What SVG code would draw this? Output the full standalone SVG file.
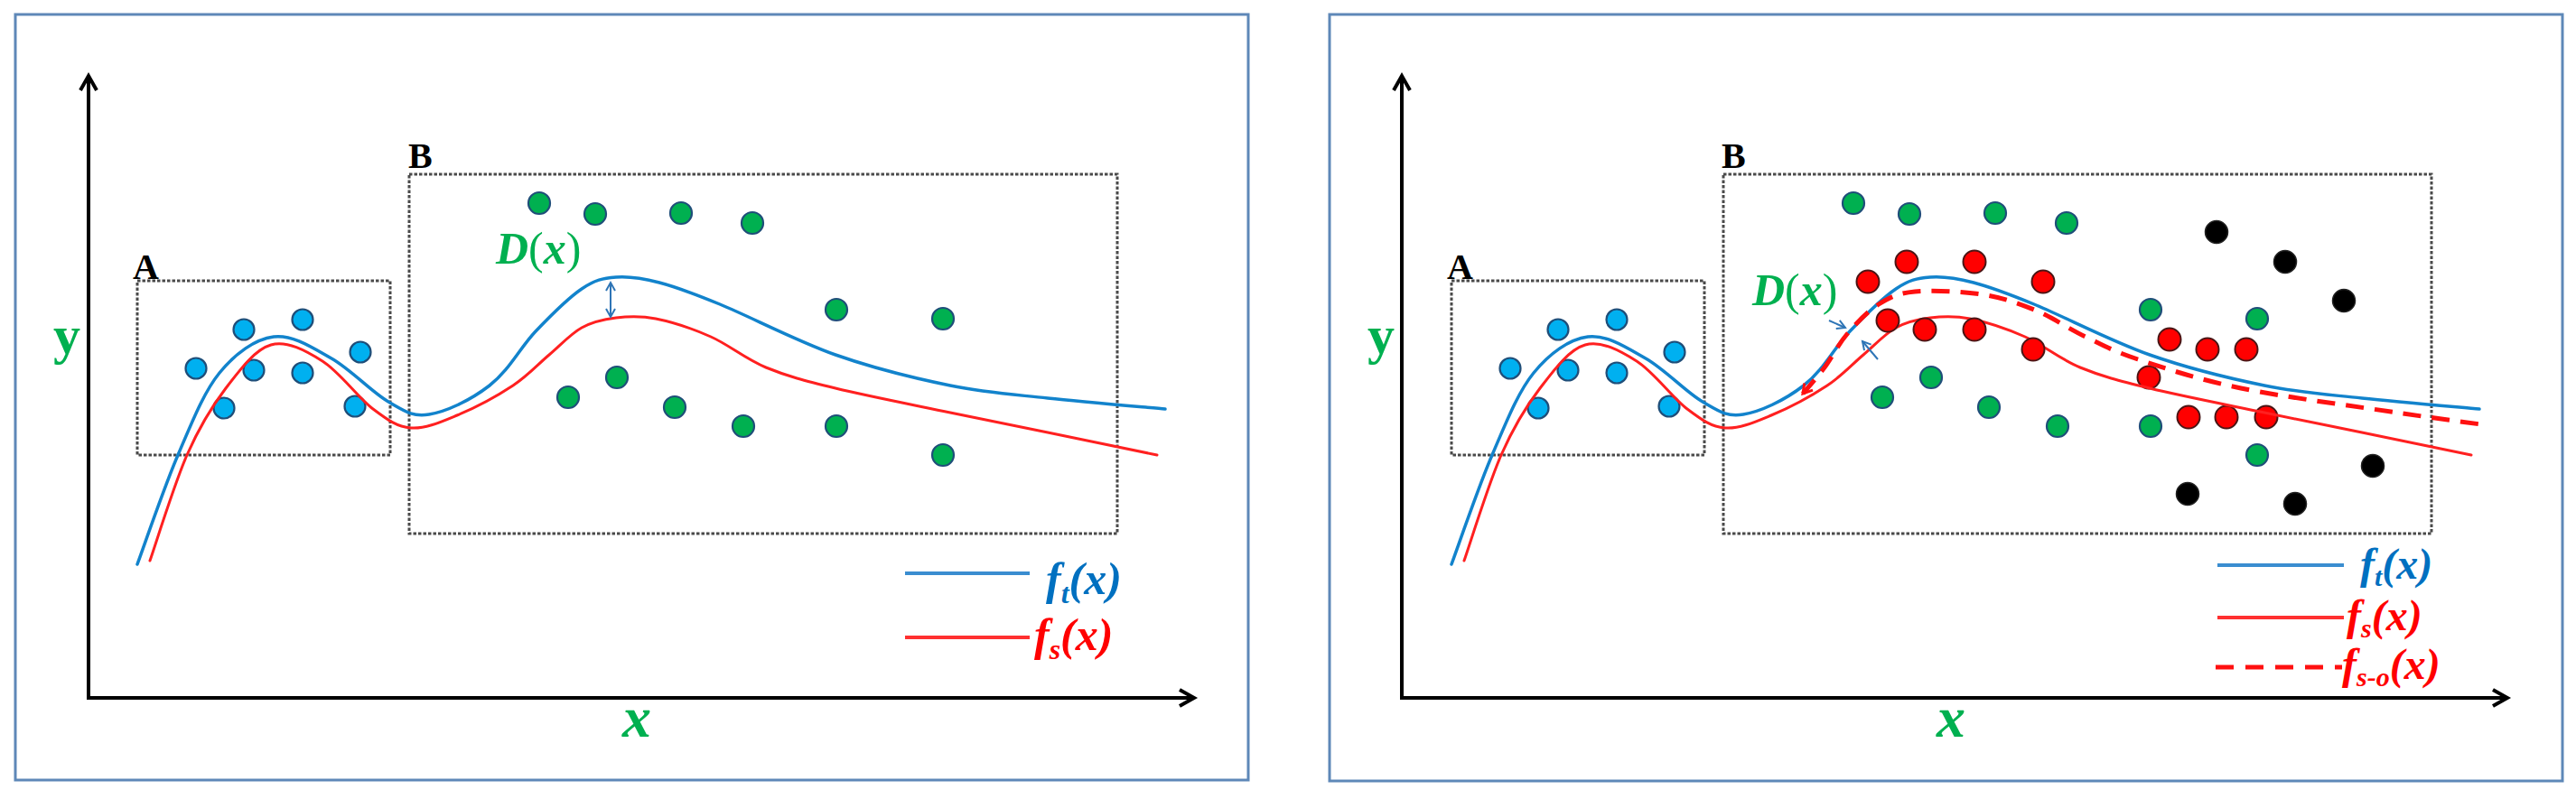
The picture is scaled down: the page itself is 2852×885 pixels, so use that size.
<svg xmlns="http://www.w3.org/2000/svg" width="2852" height="885" viewBox="0 0 2852 885">
<defs>
<style>
.frame{fill:none;stroke:#5E88B8;stroke-width:3}
.axis{fill:none;stroke:#000;stroke-width:4;marker-end:url(#axArrow)}
.box{fill:none;stroke:#4a4a4a;stroke-width:3;stroke-dasharray:3.5 2}
.ptB{fill:#00B0F0;stroke:#1F4E79;stroke-width:2.2}
.ptG{fill:#00B050;stroke:#1F4E79;stroke-width:2.2}
.ptR{fill:#FF0000;stroke:#4a1515;stroke-width:2}
.ptK{fill:#000;stroke:#222;stroke-width:1.5}
.ft{fill:none;stroke:#1283CC;stroke-width:3.5;stroke-linecap:round}
.fs{fill:none;stroke:#FF2020;stroke-width:3;stroke-linecap:round}
.fso{fill:none;stroke:#FF1010;stroke-width:5;stroke-dasharray:20 12}
.lgT{stroke:#3A8DD0;stroke-width:4}
.lgS{stroke:#FF3030;stroke-width:4}
.lgSO{stroke:#FF1010;stroke-width:5;stroke-dasharray:20 13}
.dArr{fill:none;stroke:#2E75B6;stroke-width:2}
.lbl{font-family:"Liberation Serif","Times New Roman",serif;font-weight:bold}
.math{font-family:"Liberation Serif","Times New Roman",serif;font-weight:bold;font-style:italic}
.green{fill:#00B050}
.blue{fill:#0070C0}
.red{fill:#FF0000}
</style>
<marker id="axArrow" markerUnits="userSpaceOnUse" markerWidth="26" markerHeight="26" viewBox="0 0 26 26" refX="21" refY="13" orient="auto"><path d="M5,4 L21,13 L5,22" fill="none" stroke="#000" stroke-width="4"/></marker>
<marker id="sArrow" markerUnits="userSpaceOnUse" markerWidth="16" markerHeight="16" viewBox="0 0 16 16" refX="13" refY="8" orient="auto-start-reverse"><path d="M4,3 L13,8 L4,13" fill="none" stroke="#2E75B6" stroke-width="2"/></marker>
<marker id="rArrow" markerUnits="userSpaceOnUse" markerWidth="18" markerHeight="18" viewBox="0 0 18 18" refX="15" refY="9" orient="auto-start-reverse"><path d="M5,3 L15,9 L5,15" fill="none" stroke="#FF1010" stroke-width="3" stroke-dasharray="none"/></marker>
<path id="curveT" d="M152,625 C159.5,604.8 181.8,539.3 197,504 C212.2,468.7 225.3,434.8 243,413 C260.7,391.2 282.3,375.7 303,373 C323.7,370.3 345.8,385 367,397 C388.2,409 412,434.7 430,445 C448,455.3 456.3,462 475,459 C493.7,456 520,444 542,427 C564,410 576,384.8 593,367 C610,349.2 629.2,330 644,320 C658.8,310 667.7,308.2 682,307 C696.3,305.8 710.8,308 730,313 C749.2,318 764.5,323.7 797,337 C829.5,350.3 882.5,378 925,393 C967.5,408 1012.8,419 1052,427 C1091.2,435 1120.3,436.7 1160,441 C1199.7,445.3 1268.3,451 1290,453"/>
<path id="curveS" d="M166,621 C172.8,601.5 193,535.8 207,504 C221,472.2 234.5,450.3 250,430 C265.5,409.7 282.2,387 300,382 C317.8,377 338.2,388.2 357,400 C375.8,411.8 396.7,440.7 413,453 C429.3,465.3 439.5,472.8 455,474 C470.5,475.2 487.2,467.8 506,460 C524.8,452.2 551,438.2 568,427 C585,415.8 595.3,403.7 608,393 C620.7,382.3 631.7,369.8 644,363 C656.3,356.2 668.3,353.7 682,352 C695.7,350.3 708.5,349.5 726,353 C743.5,356.5 766.7,364 787,373 C807.3,382 825,397.5 848,407 C871,416.5 891,421.7 925,430 C959,438.3 1012.8,448.8 1052,457 C1091.2,465.2 1121.8,471.2 1160,479 C1198.2,486.8 1260.8,499.8 1281,504"/>
</defs>
<rect width="2852" height="885" fill="#fff"/>

<!-- ===== Left panel ===== -->
<g id="left-panel">
<rect class="frame" x="17" y="16" width="1365" height="848"/>
<g id="left-axes">
<line class="axis" x1="98" y1="773" x2="98" y2="84"/>
<line class="axis" x1="96" y1="773" x2="1322" y2="773"/>
<text class="lbl green" x="59" y="391" font-size="60">y</text>
<text class="math green" x="689" y="816" font-size="64">x</text>
</g>
<g id="left-boxA">
<rect class="box" x="152" y="311" width="280" height="193"/>
<text class="lbl" x="147" y="309" font-size="40" fill="#000">A</text>
</g>
<g id="left-boxB">
<rect class="box" x="453" y="193" width="784" height="398"/>
<text class="lbl" x="452" y="186" font-size="40" fill="#000">B</text>
</g>
<g id="left-pointsA">
<circle class="ptB" cx="270" cy="365" r="11.5"/><circle class="ptB" cx="335" cy="354" r="11.5"/>
<circle class="ptB" cx="217" cy="408" r="11.5"/><circle class="ptB" cx="281" cy="410" r="11.5"/>
<circle class="ptB" cx="335" cy="413" r="11.5"/><circle class="ptB" cx="399" cy="390" r="11.5"/>
<circle class="ptB" cx="248" cy="452" r="11.5"/><circle class="ptB" cx="393" cy="450" r="11.5"/>
</g>
<g id="left-pointsB">
<circle class="ptG" cx="597" cy="225" r="12"/><circle class="ptG" cx="659" cy="237" r="12"/>
<circle class="ptG" cx="754" cy="236" r="12"/><circle class="ptG" cx="833" cy="247" r="12"/>
<circle class="ptG" cx="926" cy="343" r="12"/><circle class="ptG" cx="1044" cy="353" r="12"/>
<circle class="ptG" cx="683" cy="418" r="12"/><circle class="ptG" cx="629" cy="440" r="12"/>
<circle class="ptG" cx="747" cy="451" r="12"/><circle class="ptG" cx="823" cy="472" r="12"/>
<circle class="ptG" cx="926" cy="472" r="12"/><circle class="ptG" cx="1044" cy="504" r="12"/>
</g>
<g id="left-Dlabel">
<text class="math green" x="549" y="292" font-size="50">D<tspan font-style="normal" font-weight="normal">(</tspan>x<tspan font-style="normal" font-weight="normal">)</tspan></text>
</g>
<g id="left-legend">
<line class="lgT" x1="1002" y1="635" x2="1140" y2="635"/>
<text class="math blue" x="1158" y="658" font-size="50">f<tspan font-size="32" dy="10">t</tspan><tspan dy="-10">(x)</tspan></text>
<line class="lgS" x1="1002" y1="706" x2="1140" y2="706"/>
<text class="math red" x="1145" y="720" font-size="50">f<tspan font-size="32" dy="10">s</tspan><tspan dy="-10">(x)</tspan></text>
</g>
</g>

<!-- ===== Right panel ===== -->
<g id="right-panel">
<rect class="frame" x="1472" y="16" width="1365" height="849"/>
<g id="right-axes">
<line class="axis" x1="1552" y1="773" x2="1552" y2="84"/>
<line class="axis" x1="1550" y1="773" x2="2776" y2="773"/>
<text class="lbl green" x="1514" y="391" font-size="60">y</text>
<text class="math green" x="2144" y="816" font-size="64">x</text>
</g>
<g id="right-boxA">
<rect class="box" x="1607" y="311" width="280" height="193"/>
<text class="lbl" x="1602" y="309" font-size="40" fill="#000">A</text>
</g>
<g id="right-boxB">
<rect class="box" x="1908" y="193" width="784" height="398"/>
<text class="lbl" x="1906" y="186" font-size="40" fill="#000">B</text>
</g>
<g id="right-pointsA" transform="translate(1455,0)">
<circle class="ptB" cx="270" cy="365" r="11.5"/><circle class="ptB" cx="335" cy="354" r="11.5"/>
<circle class="ptB" cx="217" cy="408" r="11.5"/><circle class="ptB" cx="281" cy="410" r="11.5"/>
<circle class="ptB" cx="335" cy="413" r="11.5"/><circle class="ptB" cx="399" cy="390" r="11.5"/>
<circle class="ptB" cx="248" cy="452" r="11.5"/><circle class="ptB" cx="393" cy="450" r="11.5"/>
</g>
<g id="right-pointsGreen" transform="translate(1455,0)">
<circle class="ptG" cx="597" cy="225" r="12"/><circle class="ptG" cx="659" cy="237" r="12"/>
<circle class="ptG" cx="754" cy="236" r="12"/><circle class="ptG" cx="833" cy="247" r="12"/>
<circle class="ptG" cx="926" cy="343" r="12"/><circle class="ptG" cx="1044" cy="353" r="12"/>
<circle class="ptG" cx="683" cy="418" r="12"/><circle class="ptG" cx="629" cy="440" r="12"/>
<circle class="ptG" cx="747" cy="451" r="12"/><circle class="ptG" cx="823" cy="472" r="12"/>
<circle class="ptG" cx="926" cy="472" r="12"/><circle class="ptG" cx="1044" cy="504" r="12"/>
</g>
<g id="right-pointsRed">
<circle class="ptR" cx="2111" cy="290" r="12.5"/><circle class="ptR" cx="2186" cy="290" r="12.5"/>
<circle class="ptR" cx="2068" cy="312" r="12.5"/><circle class="ptR" cx="2262" cy="312" r="12.5"/>
<circle class="ptR" cx="2402" cy="376" r="12.5"/><circle class="ptR" cx="2444" cy="387" r="12.5"/>
<circle class="ptR" cx="2487" cy="387" r="12.5"/><circle class="ptR" cx="2379" cy="418" r="12.5"/>
<circle class="ptR" cx="2423" cy="462" r="12.5"/><circle class="ptR" cx="2465" cy="462" r="12.5"/>
<circle class="ptR" cx="2509" cy="462" r="12.5"/>
</g>
<g id="right-pointsBlack">
<circle class="ptK" cx="2454" cy="257" r="12.5"/><circle class="ptK" cx="2530" cy="290" r="12.5"/>
<circle class="ptK" cx="2595" cy="333" r="12.5"/><circle class="ptK" cx="2627" cy="516" r="12.5"/>
<circle class="ptK" cx="2422" cy="547" r="12.5"/><circle class="ptK" cx="2541" cy="558" r="12.5"/>
</g>
<g id="right-Dlabel">
<text class="math green" x="1940" y="338" font-size="50">D<tspan font-style="normal" font-weight="normal">(</tspan>x<tspan font-style="normal" font-weight="normal">)</tspan></text>
</g>
<g id="right-legend">
<line class="lgT" x1="2455" y1="626" x2="2595" y2="626"/>
<text class="math blue" x="2613" y="641" font-size="48">f<tspan font-size="30" dy="8">t</tspan><tspan dy="-8">(x)</tspan></text>
<line class="lgS" x1="2455" y1="684" x2="2595" y2="684"/>
<text class="math red" x="2598" y="698" font-size="48">f<tspan font-size="30" dy="8">s</tspan><tspan dy="-8">(x)</tspan></text>
<line class="lgSO" x1="2453" y1="739" x2="2593" y2="739"/>
<text class="math red" x="2593" y="752" font-size="48">f<tspan font-size="30" dy="8">s-o</tspan><tspan dy="-8">(x)</tspan></text>
</g>
</g>

<!-- ===== Connectors (curves and arrows) ===== -->
<g id="connectors">
<use href="#curveT" class="ft"/>
<use href="#curveS" class="fs"/>
<line class="dArr" x1="676" y1="313" x2="676" y2="351" marker-start="url(#sArrow)" marker-end="url(#sArrow)"/>
<use href="#curveT" class="ft" transform="translate(1455,0)"/>
<use href="#curveS" class="fs" transform="translate(1455,0)"/>
<path class="fso" marker-start="url(#rArrow)" d="M1996,436 C2000,431.2 2011.8,418 2020,407 C2028.2,396 2035,381.7 2045,370 C2055,358.3 2067.5,344.8 2080,337 C2092.5,329.2 2101,324.8 2120,323 C2139,321.2 2172,322.7 2194,326 C2216,329.3 2232.8,335.2 2252,343 C2271.2,350.8 2289.8,363.8 2309,373 C2328.2,382.2 2338.3,388.5 2367,398 C2395.7,407.5 2433.2,420.2 2481,430 C2528.8,439.8 2608.5,450.2 2654,457 C2699.5,463.8 2737.3,468.7 2754,471"/>
<line class="dArr" x1="2025" y1="355" x2="2043" y2="363" marker-end="url(#sArrow)"/>
<line class="dArr" x1="2079" y1="398" x2="2062" y2="378" marker-end="url(#sArrow)"/>
</g>
<g id="right-pointsRedOnCurve">
<circle class="ptR" cx="2090" cy="355" r="12.5"/><circle class="ptR" cx="2131" cy="365" r="12.5"/>
<circle class="ptR" cx="2186" cy="365" r="12.5"/><circle class="ptR" cx="2251" cy="387" r="12.5"/>
</g>
</svg>
